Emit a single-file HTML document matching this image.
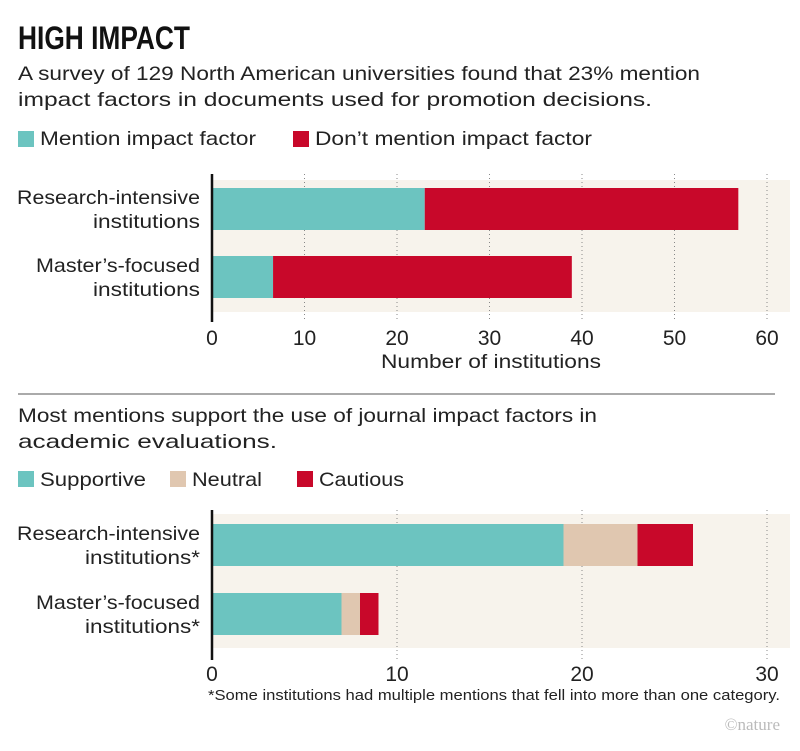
<!DOCTYPE html>
<html><head><meta charset="utf-8"><style>
body{margin:0;background:#fff;width:800px;height:751px;overflow:hidden;font-family:"Liberation Sans",sans-serif}
svg{display:block}
</style></head><body>
<svg width="800" height="751" id="fig" font-family="Liberation Sans, sans-serif">
<text x="18" y="49" font-size="32" font-weight="bold" fill="#111" textLength="172" lengthAdjust="spacingAndGlyphs">HIGH IMPACT</text>
<text x="18" y="80" font-size="19.5" fill="#222" textLength="682" lengthAdjust="spacingAndGlyphs">A survey of 129 North American universities found that 23% mention</text>
<text x="18" y="106" font-size="19.5" fill="#222" textLength="634" lengthAdjust="spacingAndGlyphs">impact factors in documents used for promotion decisions.</text>
<rect x="18" y="131" width="16" height="16" fill="#6cc4c0"/>
<text x="40" y="145" font-size="19.5" fill="#222" textLength="216" lengthAdjust="spacingAndGlyphs">Mention impact factor</text>
<rect x="293" y="131" width="16" height="16" fill="#c8082a"/>
<text x="315" y="145" font-size="19.5" fill="#222" textLength="277" lengthAdjust="spacingAndGlyphs">Don’t mention impact factor</text>
<g id="c1"></g>
<line x1="18" y1="394" x2="775" y2="394" stroke="#555" stroke-width="1"/>
<text x="18" y="422" font-size="19.5" fill="#222" textLength="579" lengthAdjust="spacingAndGlyphs">Most mentions support the use of journal impact factors in</text>
<text x="18" y="448" font-size="19.5" fill="#222" textLength="259" lengthAdjust="spacingAndGlyphs">academic evaluations.</text>
<rect x="18" y="471" width="16" height="16" fill="#6cc4c0"/>
<text x="40" y="486" font-size="19.5" fill="#222" textLength="106" lengthAdjust="spacingAndGlyphs">Supportive</text>
<rect x="170" y="471" width="16" height="16" fill="#e0c7b0"/>
<text x="192" y="486" font-size="19.5" fill="#222" textLength="70" lengthAdjust="spacingAndGlyphs">Neutral</text>
<rect x="297" y="471" width="16" height="16" fill="#c8082a"/>
<text x="319" y="486" font-size="19.5" fill="#222" textLength="85" lengthAdjust="spacingAndGlyphs">Cautious</text>
<g id="c2"></g>
<text x="780" y="700" font-size="15" fill="#222" text-anchor="end" textLength="572" lengthAdjust="spacingAndGlyphs">*Some institutions had multiple mentions that fell into more than one category.</text>
<text x="780" y="730" font-size="17" fill="#bbb" text-anchor="end" font-family="Liberation Serif, serif">©nature</text>
</svg>
<script>
const cats1 = ["Research-intensive|institutions", "Master’s-focused|institutions"];
const mention = [23, 6.6];
const dontMention = [33.9, 32.3];
const ticks1 = [0, 10, 20, 30, 40, 50, 60];

const cats2 = ["Research-intensive|institutions*", "Master’s-focused|institutions*"];
const supportive = [19, 7];
const neutral = [4, 1];
const cautious = [3, 1];
const ticks2 = [0, 10, 20, 30];

const labelLen = {"Research-intensive":183, "Master’s-focused":164, "institutions":107, "institutions*":115};

const NS = "http://www.w3.org/2000/svg";
function mk(parent, tag, attrs, txt){
  const e = document.createElementNS(NS, tag);
  for (const k in attrs) e.setAttribute(k, attrs[k]);
  if (txt !== undefined) e.textContent = txt;
  parent.appendChild(e);
  return e;
}
function drawChart(g, cfg){
  const x = v => cfg.x0 + (v / cfg.max) * (cfg.x1 - cfg.x0);
  const bg = mk(g, "rect", {x: cfg.x0, y: cfg.bgTop, width: cfg.bgRight - cfg.x0, height: cfg.bgBot - cfg.bgTop, fill: "#f7f3ec"});
  
  
  cfg.ticks.forEach(t => {
    if (t > 0) {
      const gl = mk(g, "line", {x1: x(t), x2: x(t), y1: cfg.gTop, y2: cfg.gBot, stroke: "#888", "stroke-width": 1, "stroke-dasharray": "1,3"});
      
      
    }
    const tl = mk(g, "text", {x: x(t), y: cfg.tickY, "font-size": 21, fill: "#222", "text-anchor": "middle"}, String(t));
    
    
  });
  cfg.cats.forEach((c, i) => {
    const y0 = cfg.barY[i];
    let acc = 0;
    cfg.series.forEach((s, si) => {
      const v = s[i];
      const r = mk(g, "rect", {x: x(acc), y: y0, width: x(acc + v) - x(acc), height: cfg.barH, fill: cfg.colors[si]});
      
      
      acc += v;
    });
    const lines = c.split("|");
    lines.forEach((ln, li) => {
      const t = mk(g, "text", {x: 200, y: y0 + 16 + li * 24, "font-size": 19.5, fill: "#222", "text-anchor": "end", textLength: labelLen[ln], lengthAdjust: "spacingAndGlyphs"}, ln);
      
      
    });
  });
  const ax = mk(g, "line", {x1: cfg.x0, x2: cfg.x0, y1: cfg.gTop, y2: cfg.gBot, stroke: "#111", "stroke-width": 2.5});
  
  
  if (cfg.title) {
    const tt = mk(g, "text", {x: 491, y: cfg.tickY + 23, "font-size": 19.5, fill: "#222", "text-anchor": "middle", textLength: 220, lengthAdjust: "spacingAndGlyphs"}, cfg.title);
    
    
  }
}
drawChart(document.getElementById("c1"), {
  x0: 212, x1: 767, max: 60, ticks: ticks1, cats: cats1,
  series: [mention, dontMention], colors: ["#6cc4c0", "#c8082a"], names: ["mention", "dont-mention"],
  barY: [188, 256], barH: 42, bgTop: 180, bgBot: 312, bgRight: 790, gTop: 174, gBot: 322,
  tickY: 345, title: "Number of institutions"
});
drawChart(document.getElementById("c2"), {
  x0: 212, x1: 767, max: 30, ticks: ticks2, cats: cats2,
  series: [supportive, neutral, cautious], colors: ["#6cc4c0", "#e0c7b0", "#c8082a"], names: ["supportive", "neutral", "cautious"],
  barY: [524, 593], barH: 42, bgTop: 514, bgBot: 648, bgRight: 790, gTop: 510, gBot: 660,
  tickY: 681, title: null
});
</script>
</body></html>
